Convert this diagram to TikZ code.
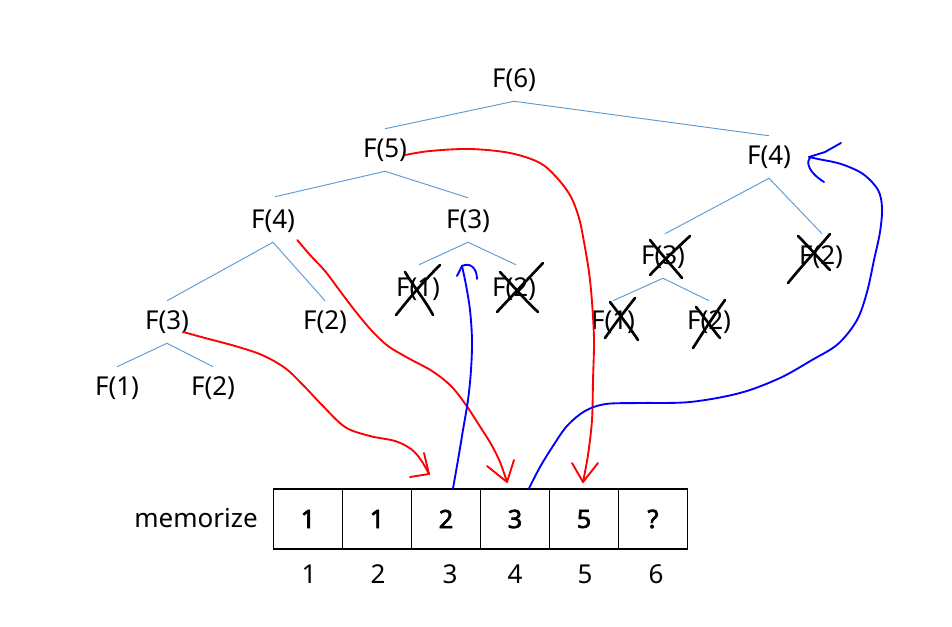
\documentclass[tikz,border=0pt]{standalone}
\usepackage{fontspec}
\setmainfont{Noto Sans}
\newfontfamily\numbold{Noto Sans}[FakeBold=2.5]
\usetikzlibrary{calc}
\definecolor{treeblue}{RGB}{91,155,213}
\definecolor{penred}{RGB}{255,0,0}
\definecolor{penblue}{RGB}{0,0,255}
\begin{document}
\begin{tikzpicture}[x=0.75pt,y=-0.75pt,
  fnode/.style={inner sep=0pt, minimum height=31.5pt, font=\fontsize{19.5}{23}\selectfont},
  tedge/.style={draw=treeblue, line width=0.7pt},
  cross/.style={draw=black, line width=2pt, line cap=round},
  redpen/.style={draw=penred, line width=1.4pt, line cap=round, line join=round},
  bluepen/.style={draw=penblue, line width=1.4pt, line cap=round, line join=round},
  cell/.style={draw=black, line width=0.9pt, minimum width=51.75pt, minimum height=45pt, inner sep=0pt, font=\fontsize{19}{23}\numbold},
  idx/.style={inner sep=0pt, font=\fontsize{19.5}{23}\selectfont},
  lbl/.style={inner sep=0pt, font=\fontsize{19.5}{23}\selectfont}]
\fill[white] (0,0) rectangle (952,627);
\useasboundingbox (0,0) rectangle (952,627);

% tree nodes
\node[fnode] (f6) at (514,80) {F(6)};
\node[fnode] (f5) at (385,150) {F(5)};
\node[fnode] (f4r) at (769,157) {F(4)};
\node[fnode] (f4l) at (273,221) {F(4)};
\node[fnode] (f3m) at (468,221) {F(3)};
\node[fnode] (f3r) at (663,257) {F(3)};
\node[fnode] (f2r) at (821,257) {F(2)};
\node[fnode] (f1m) at (418,289) {F(1)};
\node[fnode] (f2m) at (514,289) {F(2)};
\node[fnode] (f3l) at (167,322) {F(3)};
\node[fnode] (f2l) at (325,322) {F(2)};
\node[fnode] (f1r) at (613,322) {F(1)};
\node[fnode] (f2rr) at (709,322) {F(2)};
\node[fnode] (f1l) at (117,388) {F(1)};
\node[fnode] (f2ll) at (213,388) {F(2)};

% tree edges
\draw[tedge] (f6.south) -- (f5.north);
\draw[tedge] (f6.south) -- (f4r.north);
\draw[tedge] (f5.south) -- ($(f4l.north)+(2,-3)$);
\draw[tedge] (f5.south) -- ($(f3m.north)+(0,-2)$);
\draw[tedge] (f4r.south) -- ($(f3r.north)+(2,-2)$);
\draw[tedge] (f4r.south) -- ($(f2r.north)+(1,-2)$);
\draw[tedge] (f4l.south) -- (f3l.north);
\draw[tedge] (f4l.south) -- (f2l.north);
\draw[tedge] (f3m.south) -- ($(f1m.north)+(1,-3)$);
\draw[tedge] (f3m.south) -- ($(f2m.north)+(2,-3)$);
\draw[tedge] (f3r.south) -- (f1r.north);
\draw[tedge] (f3r.south) -- (f2rr.north);
\draw[tedge] (f3l.south) -- (f1l.north);
\draw[tedge] (f3l.south) -- (f2ll.north);

% crosses
\draw[cross] (405,272) .. controls (416,290) and (425,300) .. (433,315);
\draw[cross] (440,265) .. controls (420,285) and (408,300) .. (396,315);
\draw[cross] (500,272) .. controls (515,288) and (525,300) .. (538,312);
\draw[cross] (543,263) .. controls (525,282) and (510,298) .. (497,312);
\draw[cross] (650,240) .. controls (662,255) and (672,266) .. (682,278);
\draw[cross] (690,236) .. controls (675,250) and (662,262) .. (650,275);
\draw[cross] (798,236) .. controls (810,248) and (820,260) .. (830,270);
\draw[cross] (830,234) .. controls (815,252) and (800,268) .. (788,283);
\draw[cross] (610,302) .. controls (620,315) and (630,328) .. (638,340);
\draw[cross] (635,298) .. controls (624,312) and (614,325) .. (605,338);
\draw[cross] (696,307) .. controls (705,318) and (713,330) .. (720,338);
\draw[cross] (725,300) .. controls (712,318) and (702,334) .. (693,348);

% memo table
\node[lbl] (memo) at (196,518) {memorize};
\node[cell] (c1) at (308,519) {1};
\node[cell] (c2) at (377,519) {1};
\node[cell] (c3) at (446,519) {2};
\node[cell] (c4) at (515,519) {3};
\node[cell] (c5) at (584,519) {5};
\node[cell] (c6) at (653,519) {?};
\node[idx] (i1) at (309,574) {1};
\node[idx] (i2) at (378,574) {2};
\node[idx] (i3) at (450,574) {3};
\node[idx] (i4) at (515,574) {4};
\node[idx] (i5) at (585,574) {5};
\node[idx] (i6) at (656,574) {6};

% arrow tip coordinates
\coordinate (t1) at (429,474);
\coordinate (t2) at (507,482);
\coordinate (t3) at (583,482);
\coordinate (t4) at (462,266);
\coordinate (t5) at (809,157);

% red pen strokes
\draw[redpen] plot[smooth, tension=0.55] coordinates {($(f3l.east)+(-6,10)$) (205,338) (235,346) (262,355) (285,368) (303,385) (322,405) (345,427) (370,436) (395,441) (411,449) (421,460) (t1)};
\draw[redpen] (410,477) -- (t1) -- (424,453);
\draw[redpen] plot[smooth, tension=0.55] coordinates {($(f4l.east)+(2,19)$) (310,255) (325,271) (340,291) (356,312) (372,331) (388,346) (408,358) (432,371) (451,386) (466,405) (479,425) (491,444) (500,462) (t2)};
\draw[redpen] (487,466) -- (t2) -- (514,460);
\draw[redpen] plot[smooth, tension=0.55] coordinates {($(f5.east)+(-2,5)$) (430,151) (470,149) (510,153) (540,163) (558,179) (571,197) (579,218) (584,242) (589,272) (592,302) (594,340) (593,380) (592,420) (588,455) (t3)};
\draw[redpen] (572,463) -- (t3) -- (598,463);

% blue pen strokes
\draw[bluepen] plot[smooth, tension=0.55] coordinates {($(c3.north)+(7,0)$) (458,460) (463,430) (468,400) (471,370) (472,340) (470,310) (466,285) (t4)};
\draw[bluepen] (457,276) -- (t4) .. controls (470,262) and (477,268) .. (477,279);
\draw[bluepen] plot[smooth, tension=0.55] coordinates {($(c4.north)+(14,0)$) (540,467) (553,446) (567,426) (585,411) (606,404) (640,403) (690,402) (740,393) (780,378) (812,360) (838,344) (857,320) (867,292) (874,260) (880,232) (882,208) (878,190) (863,174) (841,164) (818,159) (t5)};
\draw[bluepen] (t5) -- (825,152) -- (841,143);
\draw[bluepen] ($(t5)+(1,1)$) .. controls (806,162) and (808,172) .. (824,182);
\end{tikzpicture}
\end{document}
